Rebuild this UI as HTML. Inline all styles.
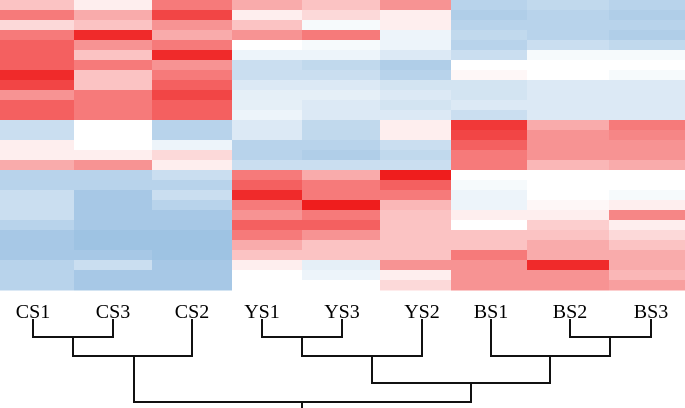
<!DOCTYPE html>
<html><head><meta charset="utf-8"><style>
html,body{margin:0;padding:0;background:#fff;}
svg{display:block;}
</style></head><body>
<svg id="chart" width="685" height="408" xmlns="http://www.w3.org/2000/svg">
<g id="cells"></g>
<g id="labels"></g>
<g id="dendro"></g>
</svg>
<script>
const samples = ["CS1","CS3","CS2","YS1","YS3","YS2","BS1","BS2","BS3"];
const colEdges = [0,74,152,232,302,380,451,527,609,685];
const CS1 = [0.3,0.6,0.2,0.6,0.7,0.7,0.7,0.9,0.8,0.5,0.7,0.7,-0.3,-0.3,0.1,0.1,0.4,-0.4,-0.4,-0.3,-0.3,-0.3,-0.4,-0.5,-0.5,-0.5,-0.4,-0.4,-0.4];
const CS3 = [0.1,0.4,0.3,0.9,0.5,0.3,0.6,0.3,0.3,0.6,0.6,0.6,0,0,0,0.1,0.5,-0.4,-0.4,-0.5,-0.5,-0.5,-0.5,-0.55,-0.55,-0.5,-0.3,-0.5,-0.5];
const CS2 = [0.6,0.8,0.5,0.4,0.6,0.9,0.5,0.6,0.7,0.8,0.7,0.7,-0.4,-0.4,-0.1,0.2,0.1,-0.3,-0.4,-0.3,-0.4,-0.5,-0.5,-0.55,-0.55,-0.55,-0.5,-0.5,-0.5];
const YS1 = [0.4,0.1,0.3,0.5,0,-0.1,-0.3,-0.3,-0.2,-0.15,-0.15,-0.1,-0.2,-0.2,-0.4,-0.4,-0.3,0.6,0.7,0.9,0.6,0.5,0.7,0.6,0.4,0.3,0.1,0,0];
const YS3 = [0.3,0.2,-0.05,0.6,-0.05,-0.1,-0.35,-0.3,-0.2,-0.15,-0.2,-0.2,-0.35,-0.35,-0.4,-0.45,-0.3,0.4,0.6,0.6,0.95,0.6,0.7,0.5,0.3,0.3,-0.15,-0.1,0];
const YS2 = [0.5,0.1,0.1,-0.1,-0.1,-0.2,-0.45,-0.4,-0.25,-0.2,-0.25,-0.2,0.1,0.1,-0.3,-0.35,-0.3,0.95,0.7,0.6,0.35,0.3,0.3,0.3,0.3,0.3,0.5,0.1,0.2];
const BS1 = [-0.4,-0.45,-0.4,-0.35,-0.4,-0.3,0,0.05,-0.25,-0.25,-0.2,-0.3,0.85,0.8,0.7,0.6,0.6,0,-0.05,-0.1,-0.1,0.1,0,0.3,0.3,0.6,0.5,0.5,0.5];
const BS2 = [-0.35,-0.4,-0.4,-0.4,-0.3,-0.05,0,0,-0.2,-0.2,-0.2,-0.2,0.4,0.5,0.5,0.5,0.35,0,0,0,0.05,0.1,0.25,0.3,0.4,0.4,0.9,0.5,0.5];
const BS3 = [-0.4,-0.45,-0.4,-0.45,-0.35,-0.05,0,-0.05,-0.2,-0.2,-0.2,-0.2,0.6,0.55,0.5,0.5,0.4,0,0,-0.05,0.1,0.55,0.1,0.2,0.3,0.4,0.4,0.35,0.45];
const series = [CS1,CS3,CS2,YS1,YS3,YS2,BS1,BS2,BS3];
const leafX = [33,113,192,262,342,422,491,570,651];

const NS="http://www.w3.org/2000/svg";
const heatTop=0, heatBottom=290;
function yScale(i,n){return heatTop+(heatBottom-heatTop)*i/n;}
function color(v){
  v=Math.max(-1,Math.min(1,v));
  if(v>=0){const t=Math.pow(v,1.15);return `rgb(${Math.round(255-17*t)},${Math.round(255-240*t)},${Math.round(255-240*t)})`;}
  const t=-v/0.55>1?1:-v/0.55;
  return `rgb(${Math.round(255-97*t)},${Math.round(255-60*t)},${Math.round(255-28*t)})`;
}
const cells=document.getElementById('cells');
series.forEach((arr,c)=>{
  const n=arr.length;
  arr.forEach((v,i)=>{
    const r=document.createElementNS(NS,'rect');
    r.setAttribute('x',colEdges[c]);
    r.setAttribute('y',yScale(i,n));
    r.setAttribute('width',colEdges[c+1]-colEdges[c]);
    r.setAttribute('height',yScale(i+1,n)-yScale(i,n)+0.5);
    r.setAttribute('fill',color(v));
    
    
    cells.appendChild(r);
  });
});
const labels=document.getElementById('labels');
samples.forEach((s,i)=>{
  const t=document.createElementNS(NS,'text');
  t.setAttribute('x',leafX[i]);t.setAttribute('y',318);
  t.setAttribute('text-anchor','middle');
  t.setAttribute('font-family','"Liberation Serif",serif');
  t.setAttribute('font-size','20');
  t.textContent=s;
  
  
  labels.appendChild(t);
});
const d=document.getElementById('dendro');
const segs=[
 [33,320,33,337],[113,320,113,337],[33,337,113,337],
 [73,337,73,356],[192,320,192,356],[73,356,192,356],
 [262,320,262,337],[342,320,342,337],[262,337,342,337],
 [302,337,302,356],[422,320,422,356],[302,356,422,356],
 [570,320,570,337],[651,320,651,337],[570,337,651,337],
 [610,337,610,356],[491,320,491,356],[491,356,610,356],
 [372,356,372,383],[550,356,550,383],[372,383,550,383],
 [134,356,134,402],[471,383,471,402],[134,402,471,402],
 [302,402,302,408]
];
segs.forEach(s=>{
  const l=document.createElementNS(NS,'line');
  l.setAttribute('x1',s[0]);l.setAttribute('y1',s[1]);l.setAttribute('x2',s[2]);l.setAttribute('y2',s[3]);
  l.setAttribute('stroke','#111');l.setAttribute('stroke-width','2');l.setAttribute('stroke-linecap','square');
  
  
  d.appendChild(l);
});
</script>
</body></html>
